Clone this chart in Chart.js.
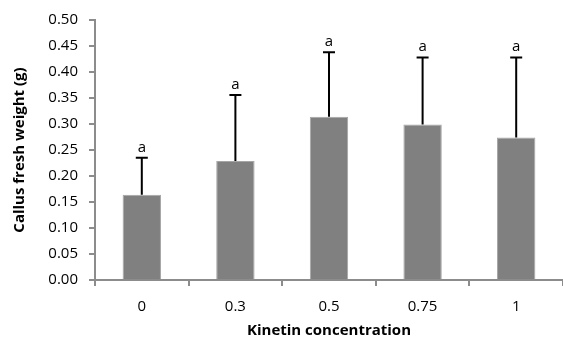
<!DOCTYPE html>
<html>
<head>
<meta charset="utf-8">
<script src="https://cdn.jsdelivr.net/npm/chart.js@4"></script>
<style>
  html, body { margin: 0; padding: 0; background: #fff; }
  #wrap { width: 563px; height: 338px; }
</style>
</head>
<body>
<div id="wrap"><canvas id="chart"></canvas></div>
<script>
// データ
const categories = ["0", "0.3", "0.5", "0.75", "1"];
const freshWeight = [0.164, 0.229, 0.314, 0.299, 0.274];
const errorSD = [0.071, 0.127, 0.124, 0.129, 0.154];
const letters = ["a", "a", "a", "a", "a"];
const yTicks = [0, 0.05, 0.10, 0.15, 0.20, 0.25, 0.30, 0.35, 0.40, 0.45, 0.50];

const FONT = "'Open Sans', 'Liberation Sans', sans-serif";
const AXIS_GRAY = "#8c8c8c";

// 誤差棒と有意差の文字
const errorBarPlugin = {
    id: "errorBars",
    afterDatasetsDraw(chart) {
        const ctx = chart.ctx;
        const meta = chart.getDatasetMeta(0);
        const y = chart.scales.y;
        ctx.save();
        ctx.strokeStyle = "#000";
        ctx.lineWidth = 2;
        meta.data.forEach((bar, i) => {
            const top = y.getPixelForValue(freshWeight[i] + errorSD[i]);
            const base = y.getPixelForValue(freshWeight[i]);
            ctx.beginPath();
            ctx.moveTo(bar.x, base);
            ctx.lineTo(bar.x, top);
            ctx.moveTo(bar.x - 6, top);
            ctx.lineTo(bar.x + 6, top);
            ctx.stroke();

            ctx.fillStyle = "#000";
            ctx.font = "15px " + FONT;
            ctx.textAlign = "center";
            ctx.textBaseline = "bottom";
            ctx.fillText(letters[i], bar.x, top - 3);
        });
        ctx.restore();
    }
};

new Chart(document.getElementById("chart"), {
    type: "bar",
    data: {
        labels: categories,
        datasets: [{
            data: freshWeight,
            backgroundColor: "#808080",
            borderColor: "#a6a6a6",
            borderWidth: 1,
            barPercentage: 0.41,
            categoryPercentage: 1.0
        }]
    },
    options: {
        responsive: true,
        maintainAspectRatio: false,
        animation: false,
        layout: { padding: { top: 20, right: 0, left: 0, bottom: 0 } },
        plugins: {
            legend: { display: false },
            tooltip: { enabled: false }
        },
        scales: {
            x: {
                offset: true,
                grid: {
                    offset: true,
                    drawOnChartArea: false,
                    color: AXIS_GRAY,
                    tickLength: 6,
                    lineWidth: 2
                },
                border: { color: AXIS_GRAY, width: 2 },
                ticks: {
                    color: "#000",
                    font: { family: FONT, size: 15 },
                    padding: 12
                },
                title: {
                    display: true,
                    text: "Kinetin concentration",
                    color: "#000",
                    font: { family: FONT, size: 15, weight: "bold" },
                    padding: { top: 0, bottom: -2 }
                },
                afterFit(scale) { scale.height = 58; }
            },
            y: {
                min: 0,
                max: 0.5,
                afterBuildTicks(scale) {
                    scale.ticks = yTicks.map(v => ({ value: v }));
                },
                grid: {
                    drawOnChartArea: false,
                    color: AXIS_GRAY,
                    tickLength: 6,
                    lineWidth: 2
                },
                border: { color: AXIS_GRAY, width: 2 },
                ticks: {
                    color: "#000",
                    font: { family: FONT, size: 15 },
                    padding: 11,
                    callback: v => v.toFixed(2)
                },
                title: {
                    display: true,
                    text: "Callus fresh weight (g)",
                    color: "#000",
                    font: { family: FONT, size: 15, weight: "bold" },
                    padding: { top: 11, bottom: 0 }
                },
                afterFit(scale) { scale.width = 95; }
            }
        }
    },
    plugins: [errorBarPlugin]
});
</script>
</body>
</html>
